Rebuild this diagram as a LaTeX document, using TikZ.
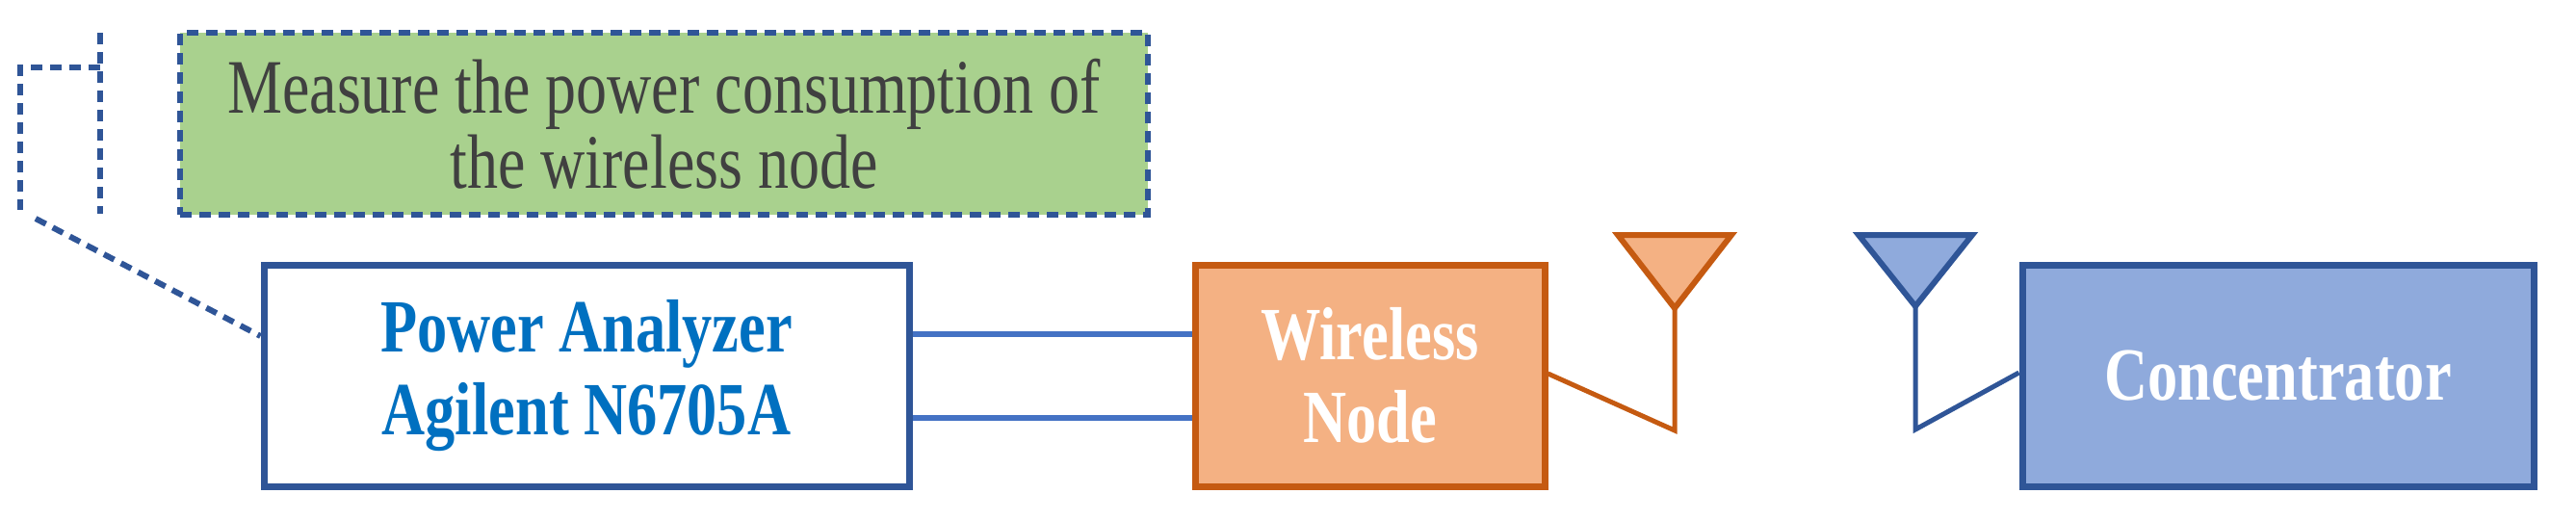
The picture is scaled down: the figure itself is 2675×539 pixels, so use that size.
\documentclass[tikz,border=0pt]{standalone}
\usepackage{fontspec}
\setmainfont{Liberation Serif}
\newfontfamily\narrowserif[FakeStretch=0.8]{Liberation Serif}
\usetikzlibrary{positioning}
\definecolor{darkblue}{HTML}{2F5597}
\definecolor{rustorange}{HTML}{C55A11}
\definecolor{peach}{HTML}{F4B183}
\definecolor{skyblue}{HTML}{8FAADC}
\definecolor{leafgreen}{HTML}{A9D18E}
\definecolor{textblue}{HTML}{0070C0}
\definecolor{wireblue}{HTML}{4472C4}
\definecolor{inkgrey}{HTML}{404040}
\tikzset{
  block/.style={draw, line width=7pt, inner sep=0pt, align=center,
    font=\narrowserif\bfseries\fontsize{78}{86}\selectfont},
  callout/.style={draw=darkblue, dash pattern=on 12pt off 8pt, line width=6pt}
}
\begin{document}
\begin{tikzpicture}[x=1pt,y=-1pt]
\useasboundingbox (0,0) rectangle (2675,539);
%the note
\node [callout, fill=leafgreen, minimum width=1005pt, minimum height=189pt,
  align=center, text=inkgrey, font=\narrowserif\fontsize{80}{78}\selectfont]
  (note) at (689.5,128.5) {Measure the power consumption of\\the wireless node};
\draw [callout] (104,34) -- (104,222);
\draw [callout] (104,70) -- (21,70) -- (21,218);
%the blocks
\node [block, draw=darkblue, fill=white, text=textblue,
  minimum width=670pt, minimum height=230pt] (analyzer) at (609,390)
  {Power Analyzer\\Agilent N6705A};
\node [block, draw=rustorange, fill=peach, text=white,
  minimum width=363pt, minimum height=230pt] (wnode) at (1422.5,390)
  {Wireless\\Node};
\node [block, draw=darkblue, fill=skyblue, text=white,
  minimum width=531pt, minimum height=230pt] (conc) at (2365.5,390)
  {Concentrator};
\draw [callout] (37,227) -- (analyzer.west |- 0,349);
%the wires
\draw [wireblue, line width=6pt] (analyzer.east |- 0,347) -- (wnode.west |- 0,347);
\draw [wireblue, line width=6pt] (analyzer.east |- 0,434) -- (wnode.west |- 0,434);
%the antennas
\coordinate (tipA) at (1739,320);
\coordinate (footA) at (1739,447);
\coordinate (tipB) at (1989,318);
\coordinate (footB) at (1989,446);
\draw [rustorange, fill=peach, line width=6pt] (1680,244) -- (1798,244) -- (tipA) -- cycle;
\draw [darkblue, fill=skyblue, line width=6pt] (1930,244) -- (2048,244) -- (tipB) -- cycle;
\draw [rustorange, line width=5pt] (wnode.east |- 0,388) -- (footA) -- (tipA);
\draw [darkblue, line width=5pt] (conc.west |- 0,387) -- (footB) -- (tipB);
\end{tikzpicture}
\end{document}
